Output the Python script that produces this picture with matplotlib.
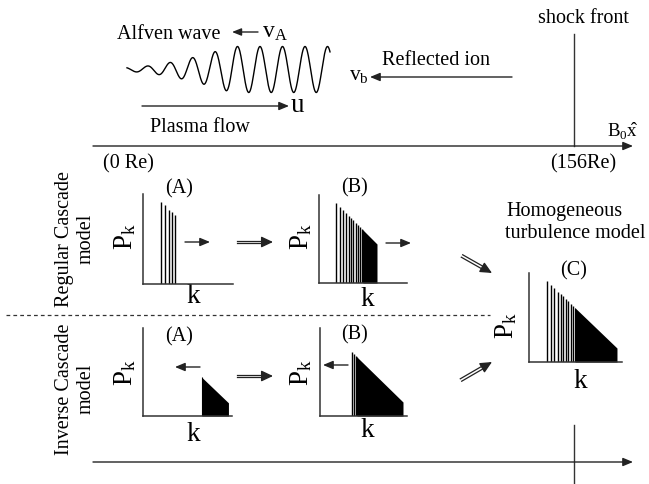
import numpy as np
import matplotlib
matplotlib.use('Agg')
import matplotlib.pyplot as plt

plt.rcParams['font.family'] = ['Liberation Serif', 'DejaVu Serif']
plt.rcParams['mathtext.fontset'] = 'custom'
plt.rcParams['mathtext.rm'] = 'Liberation Serif'
plt.rcParams['mathtext.it'] = 'Liberation Serif:italic'

W, H = 649, 485

# spectra, k and P_k both normalised to the small axes (0..1)
regA_k = [0.20, 0.24, 0.29, 0.32, 0.36]
regA_p = [0.91, 0.88, 0.82, 0.80, 0.77]

regB_k = [0.193, 0.239, 0.273, 0.307, 0.341, 0.364, 0.386, 0.420, 0.443, 0.466, 0.489]
regB_p = [0.909, 0.864, 0.830, 0.795, 0.761, 0.739, 0.716, 0.682, 0.659, 0.636, 0.614]
regB_fill_k = [0.50, 0.659]
regB_fill_p = [0.602, 0.443]

homC_k = [0.194, 0.237, 0.269, 0.312, 0.344, 0.366, 0.398, 0.419, 0.452, 0.473]
homC_p = [0.910, 0.867, 0.835, 0.792, 0.760, 0.738, 0.706, 0.684, 0.652, 0.630]
homC_fill_k = [0.495, 0.946]
homC_fill_p = [0.609, 0.157]

invA_k = []
invA_p = []
invA_fill_k = [0.66, 0.96]
invA_fill_p = [0.44, 0.15]

invB_k = [0.368, 0.391, 0.414]
invB_p = [0.727, 0.705, 0.682]
invB_fill_k = [0.425, 0.954]
invB_fill_p = [0.670, 0.159]

panel_names = ['(A)', '(B)', '(C)', '(A)', '(B)']

# alfven wave drawing
wave_x0, wave_x1, wave_y = 127, 330, 70.5
wave_period = 22.5
wave_amp = 21

FS = 14.5
BIG = 19.5
INK = '#222222'

fig = plt.figure(figsize=(W/100, H/100), dpi=100)
ax = fig.add_axes([0, 0, 1, 1])
ax.set_xlim(0, W)
ax.set_ylim(H, 0)
ax.axis('off')


def arrow(x0, y0, x1, y1, hl=0.6, hw=0.25):
    ax.annotate('', xy=(x1, y1), xytext=(x0, y0),
                arrowprops=dict(arrowstyle='-|>,head_length=%s,head_width=%s' % (hl, hw),
                                color=INK, lw=1, shrinkA=0, shrinkB=0))


def double_arrow(x0, y0, x1, y1):
    d = np.array([x1-x0, y1-y0], float)
    d = d/np.hypot(*d)
    n = np.array([-d[1], d[0]])
    base = np.array([x1, y1]) - d*7
    for s in (-1.4, 1.4):
        p0 = np.array([x0, y0]) + n*s
        p1 = base + n*s
        ax.plot([p0[0], p1[0]], [p0[1], p1[1]], color=INK, lw=0.9)
    st = np.array([x1, y1]) - d*10
    ax.annotate('', xy=(x1, y1), xytext=(st[0], st[1]),
                arrowprops=dict(arrowstyle='-|>,head_length=0.7,head_width=0.33',
                                color=INK, lw=1, shrinkA=0, shrinkB=0))


def panel(x0, y0, x1, y1, ks, ps, fk=None, fp=None):
    a = fig.add_axes([x0/W, 1-y1/H, (x1-x0)/W, (y1-y0)/H])
    a.set_xlim(0, 1)
    a.set_ylim(0, 1)
    a.patch.set_alpha(0)
    for s in ['top', 'right']:
        a.spines[s].set_visible(False)
    for s in ['left', 'bottom']:
        a.spines[s].set_color('#333333')
        a.spines[s].set_linewidth(1.1)
    a.set_xticks([])
    a.set_yticks([])
    if ks:
        a.vlines(ks, 0, ps, color='black', lw=1.0)
    if fk:
        a.fill_between(fk, [0, 0], fp, color='black', lw=0)
        a.vlines(fk[0], 0, fp[0], color='black', lw=0.8)
    return a


# top: alfven wave, flow, reflected ions
xs = np.linspace(wave_x0, wave_x1, 600)
env = wave_amp*np.clip((xs-wave_x0)/105, 0, 1)**1.6 + 2
ax.plot(xs, wave_y - env*np.cos(2*np.pi*(xs-170)/wave_period), color='black', lw=1)

ax.text(117, 39, 'Alfven wave', fontsize=FS, va='baseline')
arrow(258, 33, 232, 33, hl=0.55, hw=0.22)
ax.text(262, 38, r'$\mathrm{v}_\mathrm{A}$', fontsize=17, va='baseline')

arrow(142, 107, 289, 107)
ax.text(291, 112, 'u', fontsize=BIG, va='baseline')
ax.text(150, 132, 'Plasma flow', fontsize=FS, va='baseline')

ax.text(382, 65, 'Reflected ion', fontsize=FS, va='baseline')
arrow(512, 78, 370, 78)
ax.text(349, 80, r'$\mathrm{v}_\mathrm{b}$', fontsize=15.5, va='baseline')

ax.text(583, 23, 'shock front', fontsize=FS, va='baseline', ha='center')
ax.plot([574, 574], [35, 147], color='#333333', lw=1)
arrow(93, 147, 633, 147)
ax.text(607, 137, r'$\mathrm{B}_0\hat{\mathrm{x}}$', fontsize=13.5, va='baseline')
ax.text(103, 168, '(0 Re)', fontsize=FS, va='baseline')
ax.text(550, 168, '(156Re)', fontsize=FS, va='baseline')

# side labels and divider
ax.text(75, 239, 'Regular Cascade\nmodel', fontsize=FS, rotation=90,
        ha='center', va='center', multialignment='center', linespacing=1.15)
ax.text(75, 389, 'Inverse Cascade\nmodel', fontsize=FS, rotation=90,
        ha='center', va='center', multialignment='center', linespacing=1.15)
ax.plot([6, 490], [316, 316], color='#333333', lw=0.9, ls=(0, (3, 2.5)))

# spectra
panel(143, 195, 233, 285, regA_k, regA_p)
panel(319, 196, 407, 284, regB_k, regB_p, regB_fill_k, regB_fill_p)
panel(529, 274, 622, 363, homC_k, homC_p, homC_fill_k, homC_fill_p)
panel(143, 329, 232, 417, invA_k, invA_p, invA_fill_k, invA_fill_p)
panel(320, 329, 407, 417, invB_k, invB_p, invB_fill_k, invB_fill_p)

pk = r'$\mathrm{P}_\mathrm{k}$'
for x, y in [(125, 237), (301, 237), (506, 326), (125, 373), (301, 373)]:
    ax.text(x, y, pk, fontsize=BIG, rotation=90, ha='center', va='center')
for x, y in [(193, 297), (367, 300), (580, 382), (193, 435), (367, 431)]:
    ax.text(x, y, 'k', fontsize=BIG, ha='center', va='center')
for (x, y), s in zip([(179, 189), (355, 188), (574, 271), (179, 337), (355, 335)], panel_names):
    ax.text(x, y, s, fontsize=FS, ha='center', va='center')

ax.text(506, 212, 'Homogeneous', fontsize=FS, va='center')
ax.text(505, 234, 'turbulence model', fontsize=FS, va='center')

# arrows between spectra
arrow(185, 243, 210, 243)
arrow(386, 244, 411, 244)
arrow(200, 368, 175, 368)
arrow(348, 366, 323, 366)
double_arrow(237, 243, 273, 243)
double_arrow(237, 377, 273, 377)
double_arrow(462, 257, 492, 274)
double_arrow(461, 381, 492, 363)

# bottom axis
arrow(93, 463, 633, 463)
ax.plot([574, 574], [426, 485], color='#333333', lw=1)

fig.savefig('out.png', dpi=100)
